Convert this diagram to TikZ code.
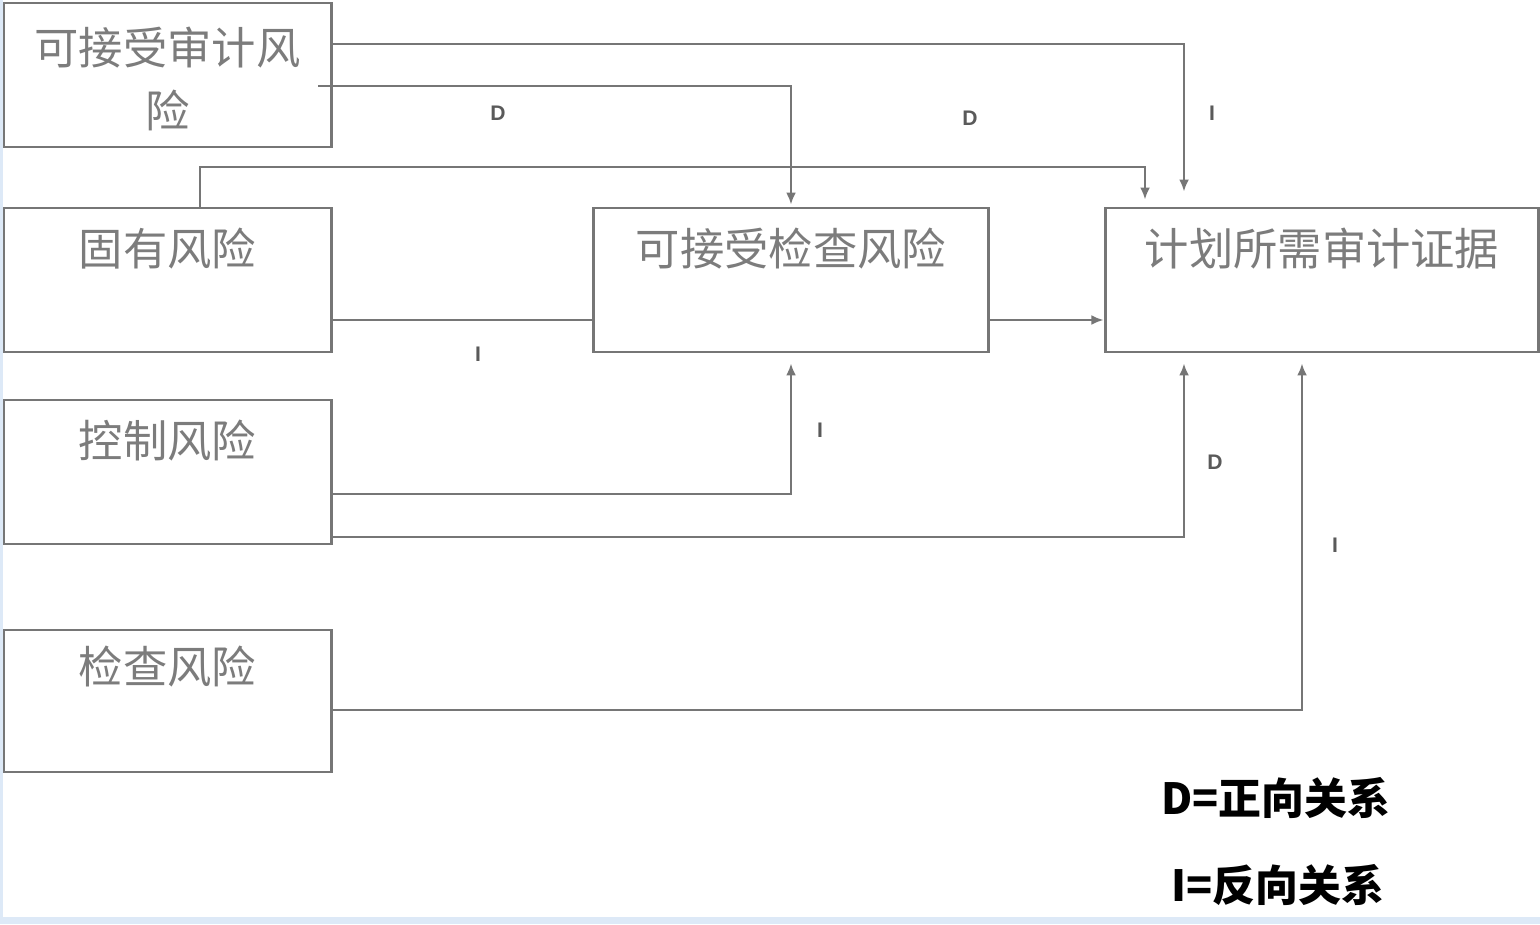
\documentclass[tikz,border=0pt]{standalone}
\usepackage{fontspec}
\setmainfont{Liberation Sans}
\newfontfamily\cjk{Noto Sans CJK SC}
\usetikzlibrary{arrows.meta}
\definecolor{linegray}{HTML}{767676}
\definecolor{txtgray}{HTML}{7C7C7C}
\definecolor{relgray}{HTML}{5A5A5A}
\definecolor{edgeblue}{HTML}{DDE9F7}
\tikzset{
  box/.style={draw=linegray, line width=0.028cm, fill=white, inner sep=0pt},
  boxtext/.style={text=txtgray, font=\cjk\fontsize{12.6}{17.9}\selectfont, align=center, anchor=center},
  conn/.style={draw=linegray, line width=0.026cm},
  arr/.style={conn, -{Latex[length=0.12cm,width=0.1cm]}},
  rel/.style={text=relgray, font=\bfseries\fontsize{6}{7}\selectfont},
  legend/.style={text=black, font=\cjk\bfseries\fontsize{12.2}{14}\selectfont},
}
\begin{document}
\begin{tikzpicture}[x=0.01cm,y=-0.01cm]
\useasboundingbox (0,0) rectangle (1540,924);
\fill[white] (0,0) rectangle (1540,924);
\fill[edgeblue] (0,0) rectangle (3,924);
\fill[edgeblue] (0,917) rectangle (1540,924);

% boxes
\node[box, minimum width=3.27cm, minimum height=1.44cm,
  label={[boxtext, yshift=-0.77cm]90:可接受审计风\\险}] (aar) at (167.5,75) {};
\node[box, minimum width=3.27cm, minimum height=1.44cm,
  label={[boxtext, yshift=-0.42cm]90:固有风险}] (fx) at (167.5,280) {};
\node[box, minimum width=3.27cm, minimum height=1.44cm,
  label={[boxtext, yshift=-0.42cm]90:控制风险}] (kz) at (167.5,472) {};
\node[box, minimum width=3.27cm, minimum height=1.42cm,
  label={[boxtext, yshift=-0.38cm]90:检查风险}] (jc) at (167.5,701) {};
\node[box, minimum width=3.94cm, minimum height=1.44cm,
  label={[boxtext, yshift=-0.42cm]90:可接受检查风险}] (ace) at (791,280) {};
\node[box, minimum width=4.32cm, minimum height=1.44cm,
  label={[boxtext, yshift=-0.42cm]90:计划所需审计证据}] (plan) at (1322,280) {};

\coordinate (s2) at (318,86);

% connectors
\draw[arr, shorten >=0.15cm] (aar.east |- 0,44) -| (plan.north -| 1184,0);
\draw[arr, shorten >=0.02cm] (s2) -| (ace.north);
\draw[arr, shorten >=0.07cm] (fx.north -| 200,0) |- (1145,167) -- (plan.north -| 1145,0);
\draw[conn] (fx.east |- 0,320) -- (ace.west |- 0,320);
\draw[arr, shorten >=0.01cm] (ace.east |- 0,320) -- (plan.west |- 0,320);
\draw[arr, shorten >=0.1cm] (kz.east |- 0,494) -| (ace.south);
\draw[arr, shorten >=0.1cm] (kz.east |- 0,537) -| (plan.south -| 1184,0);
\draw[arr, shorten >=0.1cm] (jc.east |- 0,710) -| (plan.south -| 1302,0);

% relation labels
\node[rel] (l1) at (498,113) {D};
\node[rel] (l2) at (970,118) {D};
\node[rel] (l3) at (1212,113) {I};
\node[rel] (l4) at (478,354) {I};
\node[rel] (l5) at (820,430) {I};
\node[rel] (l6) at (1215,462) {D};
\node[rel] (l7) at (1335,545) {I};

% legend
\node[legend] (lgD) at (1276,798) {D=正向关系};
\node[legend] (lgI) at (1278,885) {I=反向关系};
\end{tikzpicture}
\end{document}
